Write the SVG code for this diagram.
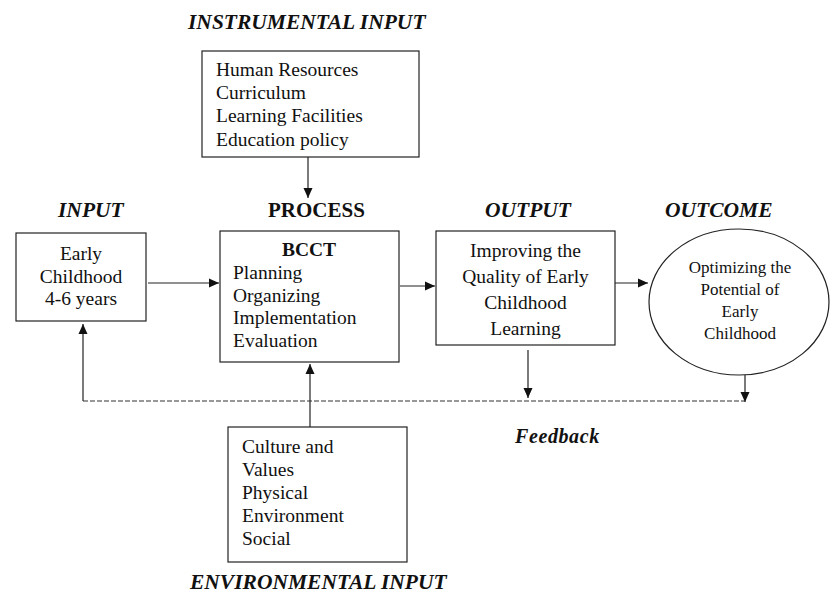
<svg xmlns="http://www.w3.org/2000/svg" width="830" height="595" viewBox="0 0 830 595">
  <style>
    .box { fill: #fff; stroke: #222; stroke-width: 1.2; }
    .txt { font-family: "Liberation Serif", "Times New Roman", serif; font-size: 19.5px; fill: #111; }
    .small { font-family: "Liberation Serif", "Times New Roman", serif; font-size: 17px; fill: #111; }
    .head { font-family: "Liberation Serif", "Times New Roman", serif; font-size: 21.5px; font-weight: bold; font-style: italic; fill: #111; }
    .headu { font-family: "Liberation Serif", "Times New Roman", serif; font-size: 21px; font-weight: bold; fill: #111; }
    .bold { font-weight: bold; }
    .mid { text-anchor: middle; }
    .link { stroke: #222; stroke-width: 1.2; fill: none; }
    .dash { stroke: #333; stroke-width: 1.2; stroke-dasharray: 5 2; fill: none; }
  </style>
  <defs>
    <marker id="arrow" markerUnits="userSpaceOnUse" markerWidth="10" markerHeight="10" refX="10" refY="5" orient="auto">
      <path d="M0,0.5 L10,5 L0,9.5 z" fill="#111"/>
    </marker>
  </defs>

  <rect width="830" height="595" fill="#fff"/>

  <!-- section headings -->
  <g id="headings">
    <text class="head" x="188" y="29">INSTRUMENTAL INPUT</text>
    <text class="head" x="58" y="217">INPUT</text>
    <text class="headu" x="268" y="217">PROCESS</text>
    <text class="head" x="485" y="217">OUTPUT</text>
    <text class="head" x="665" y="217">OUTCOME</text>
    <text class="head" x="515" y="443" style="font-size:20px;letter-spacing:0.6px">Feedback</text>
    <text class="head" x="190" y="589">ENVIRONMENTAL INPUT</text>
  </g>

  <!-- connectors -->
  <g id="connectors">
    <line class="link" x1="308" y1="157" x2="308" y2="198" marker-end="url(#arrow)"/>
    <line class="link" x1="148" y1="283" x2="219" y2="283" marker-end="url(#arrow)"/>
    <line class="link" x1="400" y1="286" x2="435" y2="286" marker-end="url(#arrow)"/>
    <line class="link" x1="615" y1="283" x2="648" y2="283" marker-end="url(#arrow)"/>
    <line class="link" x1="528" y1="350" x2="528" y2="398" marker-end="url(#arrow)"/>
    <line class="link" x1="745" y1="375" x2="745" y2="402" marker-end="url(#arrow)"/>
    <line class="dash" x1="83" y1="401" x2="745" y2="401"/>
    <line class="link" x1="83" y1="401" x2="83" y2="324" marker-end="url(#arrow)"/>
    <line class="link" x1="310" y1="427" x2="310" y2="364" marker-end="url(#arrow)"/>
  </g>

  <g id="instrumental-input">
    <rect class="box" x="202" y="51" width="217" height="106"/>
    <text class="txt" x="216" y="76">Human Resources</text>
    <text class="txt" x="216" y="99">Curriculum</text>
    <text class="txt" x="216" y="122">Learning Facilities</text>
    <text class="txt" x="216" y="146">Education policy</text>
  </g>

  <g id="input">
    <rect class="box" x="16" y="233" width="130" height="88"/>
    <text class="txt mid" x="81" y="260">Early</text>
    <text class="txt mid" x="81" y="283">Childhood</text>
    <text class="txt mid" x="81" y="305">4-6 years</text>
  </g>

  <g id="process">
    <rect class="box" x="220" y="231" width="179" height="131"/>
    <text class="txt bold mid" x="309" y="256">BCCT</text>
    <text class="txt" x="233" y="279">Planning</text>
    <text class="txt" x="233" y="302">Organizing</text>
    <text class="txt" x="233" y="324">Implementation</text>
    <text class="txt" x="233" y="347">Evaluation</text>
  </g>

  <g id="output">
    <rect class="box" x="436" y="231" width="179" height="114"/>
    <text class="txt mid" x="525.5" y="257">Improving the</text>
    <text class="txt mid" x="525.5" y="283">Quality of Early</text>
    <text class="txt mid" x="525.5" y="309">Childhood</text>
    <text class="txt mid" x="525.5" y="335">Learning</text>
  </g>

  <g id="outcome">
    <ellipse class="box" cx="739" cy="302" rx="90" ry="73"/>
    <text class="small mid" x="740" y="273">Optimizing the</text>
    <text class="small mid" x="740" y="295">Potential of</text>
    <text class="small mid" x="740" y="317">Early</text>
    <text class="small mid" x="740" y="339">Childhood</text>
  </g>

  <g id="environmental-input">
    <rect class="box" x="228" y="427" width="179" height="135"/>
    <text class="txt" x="242" y="453">Culture and</text>
    <text class="txt" x="242" y="476">Values</text>
    <text class="txt" x="242" y="499">Physical</text>
    <text class="txt" x="242" y="522">Environment</text>
    <text class="txt" x="242" y="545">Social</text>
  </g>
</svg>
